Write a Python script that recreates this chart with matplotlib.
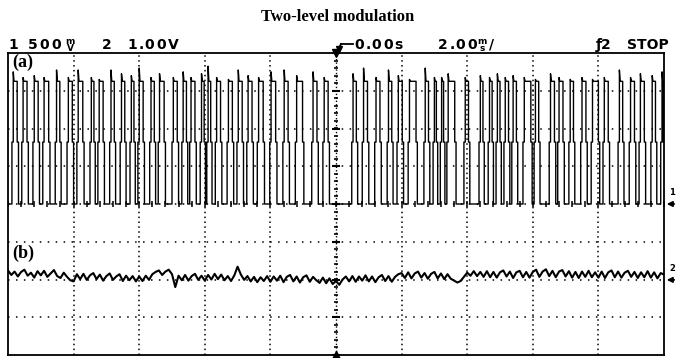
import matplotlib.pyplot as plt
import numpy as np

# channel (a): pulse rising-edge times (div), high time (div), overshoot at the edge (div)
rise_a = [0.06, 0.21, 0.38, 0.53, 0.72, 0.90, 1.05, 1.25, 1.37, 1.55,
          1.71, 1.86, 1.98, 2.16, 2.29, 2.50, 2.65, 2.77, 2.93, 3.03,
          3.16, 3.34, 3.49, 3.64, 3.80, 3.99, 4.19, 4.38, 4.63, 4.80,
          5.24, 5.40, 5.59, 5.78, 5.93, 6.10, 6.34, 6.48, 6.59, 6.69,
          6.95, 7.18, 7.32, 7.44, 7.56, 7.68, 7.85, 8.02, 8.25, 8.38,
          8.55, 8.73, 8.89, 9.07, 9.30, 9.47, 9.62, 9.80, 9.95]
width_a = [0.08, 0.08, 0.08, 0.09, 0.07, 0.08, 0.09, 0.06, 0.08, 0.07,
           0.07, 0.06, 0.08, 0.07, 0.09, 0.08, 0.07, 0.08, 0.06, 0.06,
           0.08, 0.08, 0.08, 0.08, 0.09, 0.09, 0.08, 0.11, 0.08, 0.08,
           0.07, 0.08, 0.08, 0.07, 0.08, 0.12, 0.07, 0.05, 0.05, 0.12,
           0.07, 0.06, 0.06, 0.06, 0.07, 0.07, 0.12, 0.07, 0.08, 0.08,
           0.07, 0.08, 0.11, 0.08, 0.07, 0.08, 0.08, 0.07, 0.04]
spike_a = [0.25, 0.10, 0.15, 0.10, 0.30, 0.10, 0.30, 0.10, 0.05, 0.30,
           0.20, 0.15, 0.35, 0.10, 0.20, 0.10, 0.25, 0.10, 0.20, 0.40,
           0.10, 0.05, 0.30, 0.15, 0.10, 0.25, 0.30, 0.15, 0.25, 0.10,
           0.20, 0.35, 0.10, 0.30, 0.15, 0.05, 0.35, 0.10, 0.10, 0.20,
           0.10, 0.15, 0.10, 0.20, 0.10, 0.15, 0.10, 0.05, 0.20, 0.10,
           0.05, 0.10, 0.05, 0.10, 0.30, 0.10, 0.20, 0.15, 0.25]
high_a = 3.25
step_a = 1.64

# channel (b): trace level (div) sampled every 0.05 div
trace_b = [-1.76, -1.88, -1.79, -1.92, -1.80, -1.74, -1.90, -1.82, -1.95, -1.78,
           -1.89, -1.77, -1.93, -1.84, -1.75, -1.91, -1.96, -1.82, -1.93, -2.02,
           -2.05, -1.86, -1.99, -1.85, -2.01, -1.89, -1.83, -1.99, -1.87, -2.03,
           -1.91, -1.84, -2.01, -1.92, -1.86, -2.04, -1.90, -2.02, -1.91, -2.05,
           -1.92, -2.04, -1.90, -2.01, -1.86, -1.80, -1.76, -1.88, -1.79, -1.74,
           -1.86, -2.20, -1.90, -2.02, -1.88, -2.03, -1.91, -1.85, -2.01, -1.90,
           -2.03, -1.88, -2.00, -1.85, -1.99, -1.87, -2.02, -1.91, -2.04, -1.89,
           -1.66, -1.87, -2.01, -1.91, -2.05, -1.93, -2.07, -1.94, -2.04, -1.91,
           -2.06, -1.92, -2.03, -1.90, -2.07, -1.93, -1.88, -2.05, -1.92, -2.08,
           -1.94, -1.89, -2.06, -1.93, -2.02, -2.09, -1.95, -2.10, -1.97, -2.12,
           -2.04, -2.14, -2.00, -1.92, -2.05, -1.91, -2.06, -1.92, -2.03, -1.89,
           -2.05, -1.92, -2.07, -1.94, -1.88, -2.04, -1.91, -2.06, -1.93, -1.86,
           -1.83, -1.96, -1.81, -1.97, -1.84, -1.79, -1.95, -1.83, -1.98, -1.85,
           -1.80, -1.97, -1.84, -1.99, -1.86, -1.98, -2.03, -2.08, -2.04, -1.93,
           -1.82, -1.90, -1.78, -1.91, -1.80, -1.93, -1.78, -1.94, -1.80, -1.95,
           -1.81, -1.76, -1.92, -1.79, -1.96, -1.81, -1.77, -1.94, -1.80, -1.95,
           -1.80, -1.74, -1.93, -1.79, -1.73, -1.91, -1.77, -1.94, -1.79, -1.75,
           -1.92, -1.78, -1.95, -1.80, -1.96, -1.79, -1.93, -1.77, -1.94, -1.81,
           -1.95, -1.79, -1.96, -1.81, -1.76, -1.94, -1.79, -1.95, -1.82, -1.77,
           -1.93, -1.80, -1.96, -1.81, -1.94, -1.78, -1.95, -1.81, -1.97, -1.83,
           -1.87]
t_b = np.linspace(0, 10, len(trace_b))

W, H = 676, 358
fig = plt.figure(figsize=(W / 100, H / 100), dpi=100)
ax = fig.add_axes([8 / W, 3 / H, 656 / W, 302 / H])
ax.set_xlim(0, 10)
ax.set_ylim(-4, 4)
ax.set_xticks([])
ax.set_yticks([])
for sp in ax.spines.values():
    sp.set_linewidth(1.3)

# graticule
for gx in range(1, 10):
    if gx != 5:
        ax.axvline(gx, color='k', lw=1.1, ls=(0, (1, 2.2)))
for gy in range(-3, 4):
    ax.axhline(gy, color='k', lw=1.1, ls=(0, (1, 4.2)))
ax.axvline(5, color='k', lw=1.0, ls=(0, (1, 1.5)))
minor = np.arange(-4, 4.01, 0.2)
ax.plot(np.full(len(minor), 5), minor, ls='none', marker='_', ms=3, mew=1.2, color='k')
ax.plot(np.full(9, 5), np.arange(-4, 5), ls='none', marker='_', ms=6, mew=1.5, color='k')
hminor = np.arange(0, 10.01, 0.2)
ax.plot(hminor, np.zeros(len(hminor)), ls='none', marker='|', ms=4, mew=1.1, color='k')

# channel (a) waveform from the edge times
d = 0.02
xa, ya = [0.0], [0.0]
for r, w, s in zip(rise_a, width_a, spike_a):
    xa += [r, r, r + d, r + d, r + d + 0.012, r + w, r + w, r + w + d, r + w + d]
    ya += [0, step_a, step_a, high_a + s, high_a, high_a, step_a, step_a, 0]
xa.append(max(10.0, xa[-1]))
ya.append(0)
ax.plot(xa, ya, color='k', lw=1.0)

# channel (b)
ax.plot(t_b, trace_b, color='k', lw=1.5)

# markers on the screen edge
ax.plot([5], [4], marker='v', ms=6, color='k', clip_on=False)
ax.plot([5], [-4], marker='^', ms=6, color='k', clip_on=False)
for yy, lab in [(0, '1'), (-2.01, '2')]:
    ax.annotate('', xy=(10.0, yy), xytext=(10.2, yy),
                arrowprops=dict(arrowstyle='-|>', lw=1.2, color='k',
                                mutation_scale=8),
                annotation_clip=False)
    ax.text(10.08, yy + 0.3, lab, fontsize=6, fontweight='bold', ha='left',
            va='center', clip_on=False)

ax.text(0.07, 3.75, '(a)', fontsize=13, fontweight='bold',
        family='Liberation Serif', ha='left', va='center')
ax.text(0.07, -1.3, '(b)', fontsize=13, fontweight='bold',
        family='Liberation Serif', ha='left', va='center')

fig.text(0.5, 1 - 17 / H, 'Two-level modulation', fontsize=12,
         fontweight='bold', family='Liberation Serif', ha='center', va='center')


# scope status line
def put(s, x, y=45, pitch=11.5):
    for ch in s:
        fig.text(x / W, 1 - y / H, ch, ha='left', va='center',
                 fontsize=10, fontweight='bold')
        x += 6 if ch == '.' else pitch


def stacked(glyph, x):
    fig.text(x / W, 1 - 45 / H, glyph, ha='center', va='center', fontsize=6.5,
             fontweight='bold', linespacing=0.7, multialignment='center')


put('1', 8)
put('500', 28)
stacked('m\nV', 70)
put('2', 102)
put('1.00V', 127)
fig.add_artist(plt.Line2D([341 / W, 353 / W], [1 - 44 / H, 1 - 44 / H],
                          color='k', lw=1.3))
fig.add_artist(plt.Line2D([341 / W, 339 / W], [1 - 44 / H, 1 - 48 / H],
                          color='k', lw=1.3))
fig.add_artist(plt.Line2D([339 / W], [1 - 49 / H], marker='v', ms=4,
                          color='k'))
put('0.00s', 354)
put('2.00', 438)
stacked('m\ns', 482)
put('/', 489)
fig.text(596 / W, 1 - 45 / H, 'ƒ2', ha='left', va='center', fontsize=10,
         fontweight='bold')
fig.text(669 / W, 1 - 45 / H, 'STOP', ha='right', va='center', fontsize=10,
         fontweight='bold')

fig.savefig('out.png', dpi=100)
